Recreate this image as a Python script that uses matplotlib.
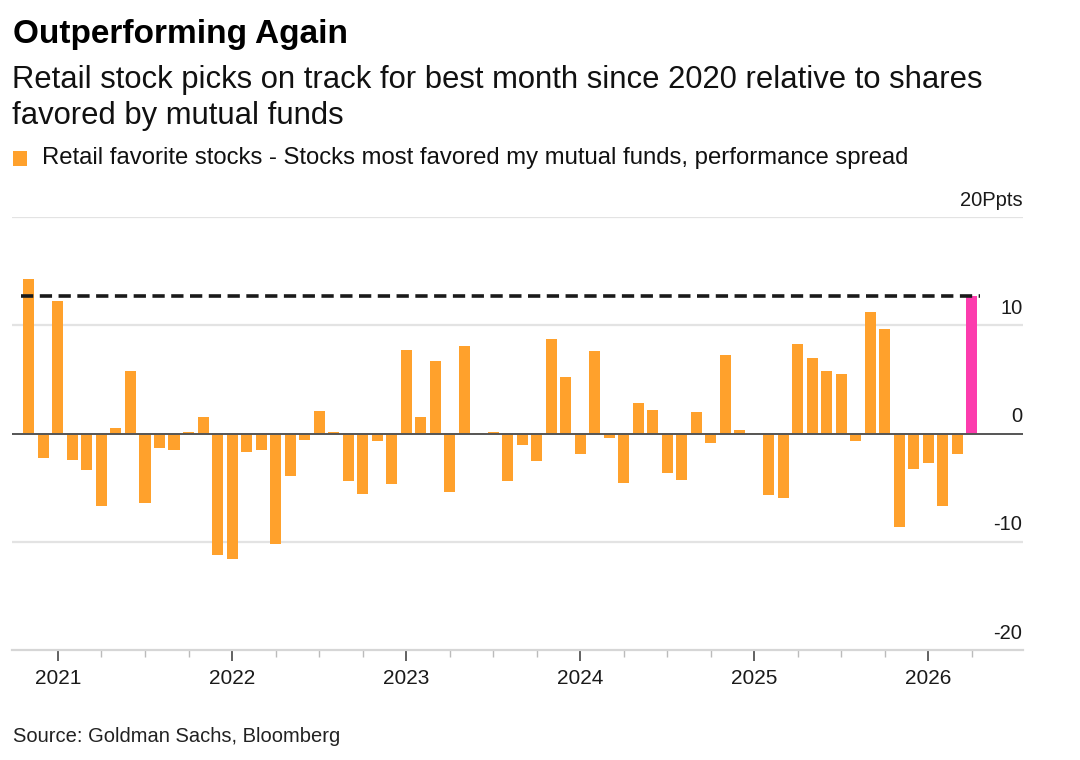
import matplotlib
matplotlib.use("Agg")
import matplotlib.pyplot as plt
from matplotlib.patches import Rectangle
import pandas as pd

plt.rcParams['font.family'] = ['Liberation Sans', 'DejaVu Sans']

# monthly performance spread, Nov 2020 .. Apr 2026 (last month highlighted)
months = pd.period_range('2020-11', '2026-04', freq='M')
spread = [14.3, -2.3, 12.2, -2.4, -3.4, -6.7, 0.5, 5.8, -6.4, -1.3, -1.5, 0.1,
          1.5, -11.2, -11.6, -1.7, -1.5, -10.2, -3.9, -0.6, 2.1, 0.1, -4.4, -5.6,
          -0.7, -4.7, 7.7, 1.5, 6.7, -5.4, 8.1, 0.05, 0.15, -4.4, -1.1, -2.5,
          8.7, 5.2, -1.9, 7.6, -0.4, -4.6, 2.8, 2.2, -3.6, -4.3, 2.0, -0.9,
          7.3, 0.3, 0.05, -5.7, -6.0, 8.3, 7.0, 5.8, 5.5, -0.7, 11.2, 9.7,
          -8.6, -3.3, -2.7, -6.7, -1.9, 12.7]
years = [2021, 2022, 2023, 2024, 2025, 2026]
yticks = [20, 10, 0, -10, -20]
ylabels = ['20Ppts', '10', '0', '-10', '-20']

orange = '#ffa12c'
pink = '#fc3cad'

x = [(p.year - 2021) * 12 + p.month - 1 for p in months]
colors = [orange] * (len(spread) - 1) + [pink]

fig = plt.figure(figsize=(10.8, 7.6), dpi=100)
ax = fig.add_axes([0.0111, 0.1447, 0.9361, 0.5697])

for g in [20, 10, -10]:
    ax.axhline(g, color='#e3e3e3', lw=1.6, zorder=0)
ax.bar(x, spread, width=0.76, color=colors, zorder=2)
ax.axhline(0, color='#555555', lw=1.4, zorder=3)

w = 0.38
ax.hlines(spread[-1], x[0] - w - 0.2, x[-1] + w + 0.2, colors='#1a1a1a', lw=2.6,
          linestyles=(0, (3.4, 1.8)), zorder=4)

xmin, xmax = -3.17, 66.53
ax.set_xlim(xmin, xmax)
ax.set_ylim(-20, 20)

for v, lab in zip(yticks, ylabels):
    ax.text(xmax - 0.05, v + 1.05, lab, ha='right', va='baseline', fontsize=14.5,
            color='#1a1a1a')

ax.set_yticks([])
ax.set_xticks([(y - 2021) * 12 for y in years])
ax.set_xticklabels([str(y) for y in years], fontsize=15, color='#1a1a1a')
ax.set_xticks([m for m in range(3, 64, 3) if m % 12], minor=True)
ax.tick_params(axis='x', which='major', length=8, width=1.3, color='#555555', pad=6)
ax.tick_params(axis='x', which='minor', length=5, width=1.0, color='#bbbbbb')

for s in ['top', 'left', 'right']:
    ax.spines[s].set_visible(False)
ax.spines['bottom'].set_color('#d6d6d6')
ax.spines['bottom'].set_linewidth(1.6)

fig.text(0.012, 0.955, 'Outperforming Again', fontsize=24, fontweight='bold',
         ha='left', va='center', color='#000000')
fig.text(0.011, 0.895, 'Retail stock picks on track for best month since 2020 relative to shares',
         fontsize=22.3, ha='left', va='center', color='#111111')
fig.text(0.011, 0.848, 'favored by mutual funds', fontsize=22.3, ha='left', va='center',
         color='#111111')
fig.patches.append(Rectangle((13 / 1080, 1 - 166 / 760), 14 / 1080, 15 / 760,
                             transform=fig.transFigure, facecolor=orange, edgecolor='none'))
fig.text(42 / 1080, 1 - 158 / 760,
         'Retail favorite stocks - Stocks most favored my mutual funds, performance spread',
         fontsize=17.2, ha='left', va='center', color='#111111')
fig.text(0.012, 1 - 737 / 760, 'Source: Goldman Sachs, Bloomberg', fontsize=14.5,
         ha='left', va='center', color='#222222')

fig.savefig('out.png', dpi=100)
